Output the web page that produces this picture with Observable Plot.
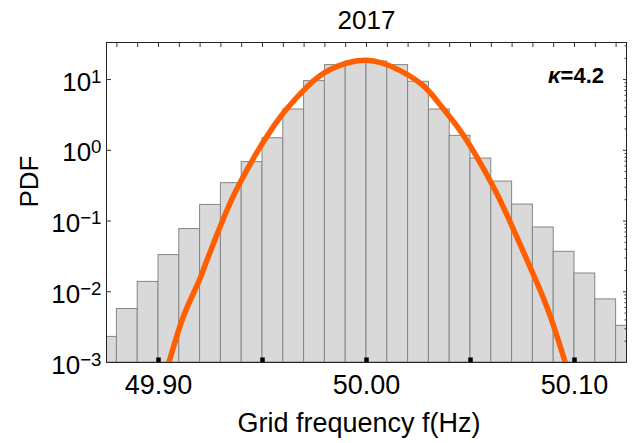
<!DOCTYPE html>
<html>
<head>
<meta charset="utf-8">
<script src="https://cdn.jsdelivr.net/npm/d3@7"></script>
<script src="https://cdn.jsdelivr.net/npm/@observablehq/plot@0.6"></script>
<style>
  html, body { margin: 0; padding: 0; background: #fff; }
</style>
</head>
<body>
<div id="chart"></div>
<script>
// ---- text ----
const title = "2017";
const xLabel = "Grid frequency f(Hz)";
const yLabel = "PDF";
const kappaSymbol = "κ";
const kappaValue = "=4.2";

// ---- histogram (bin left edges, bin width, PDF values) ----
const binLeft = [49.87, 49.88, 49.89, 49.90, 49.91, 49.92, 49.93, 49.94, 49.95, 49.96, 49.97, 49.98, 49.99,
                 50.00, 50.01, 50.02, 50.03, 50.04, 50.05, 50.06, 50.07, 50.08, 50.09, 50.10, 50.11, 50.12];
const binWidth = 0.01;
const pdf = [0.0023, 0.0057, 0.0138, 0.033, 0.077, 0.169, 0.343, 0.68, 1.48, 3.77, 9.5, 16.0, 18.0,
             18.0, 16.0, 9.3, 3.77, 1.6, 0.764, 0.361, 0.171, 0.081, 0.0367, 0.0181, 0.0078, 0.0033];

// ---- fitted curve ----
const fitX = [49.9048, 49.9118, 49.9188, 49.9232, 49.9308, 49.9380, 49.9468, 49.9537, 49.9612, 49.9716, 49.9828,
              50.0000, 50.0157, 50.0277, 50.0365, 50.0469, 50.0598, 50.0678, 50.0758, 50.0822, 50.0886, 50.0958];
const fitPdf = [0.00095, 0.00433, 0.0128, 0.0274, 0.1007, 0.297, 0.88, 1.85, 3.7, 8.0, 14.0,
                18.8, 13.6, 8.0, 4.0, 1.58, 0.355, 0.117, 0.0347, 0.0129, 0.0043, 0.00095];

// ---- axes ----
const xDomain = [49.875, 50.125];
const yDomain = [0.001, 33.4];
const xTickLabels = [49.90, 50.00, 50.10];
const xMajorTicks = [49.90, 49.95, 50.00, 50.05, 50.10];
const xMinorTicks = [49.88, 49.89, 49.90, 49.91, 49.92, 49.93, 49.94, 49.95, 49.96, 49.97, 49.98, 49.99, 50.00,
                     50.01, 50.02, 50.03, 50.04, 50.05, 50.06, 50.07, 50.08, 50.09, 50.10, 50.11, 50.12];
const yTickExponents = [1, 0, -1, -2, -3];
const yMinorMultipliers = [2, 3, 4, 5, 6, 7, 8, 9];

// derived tables
const bins = binLeft.map((x0, i) => ({x0, x1: x0 + binWidth, p: pdf[i]}));
const fit = fitX.map((x, i) => ({x, p: fitPdf[i]}));
const yMajor = yTickExponents.map(e => Math.pow(10, e));
const yMinor = [];
for (const e of yTickExponents) for (const m of yMinorMultipliers) {
  const v = m * Math.pow(10, e);
  if (v > yDomain[0] && v < yDomain[1]) yMinor.push(v);
}

const font = "'Liberation Sans', Arial, Helvetica, sans-serif";
const blank = () => "";
const expText = d => "10^" + (d < 0 ? "\u2212" + Math.abs(d) : String(d));

const chart = Plot.plot({
  width: 636,
  height: 443,
  marginLeft: 106,
  marginRight: 10,
  marginTop: 42,
  marginBottom: 81,
  style: {fontFamily: font, fontSize: "26px", background: "#fff", color: "#000"},
  x: {domain: xDomain},
  y: {type: "log", domain: yDomain},
  marks: [
    Plot.rect(bins, {x1: "x0", x2: "x1", y1: yDomain[0], y2: "p", fill: "#d9d9d9", stroke: "#858585", strokeWidth: 1, clip: true}),
    Plot.line(fit, {x: "x", y: "p", stroke: "#ff5f00", strokeWidth: 5.5, curve: "natural", clip: true}),
    Plot.frame({stroke: "#222", strokeWidth: 1}),
    Plot.axisX(xMinorTicks, {anchor: "top", tickSize: -4, tickFormat: blank, label: null, stroke: "#333"}),
    Plot.axisX(xMajorTicks, {anchor: "bottom", tickSize: -4.5, strokeWidth: 4.5, tickFormat: blank, label: null, stroke: "#000"}),
    Plot.axisY(yMajor, {anchor: "left", tickSize: -5, tickFormat: blank, label: null, stroke: "#333"}),
    Plot.axisY(yMajor, {anchor: "right", tickSize: -4, tickFormat: blank, label: null, stroke: "#333"}),
    Plot.axisY(yMinor, {anchor: "right", tickSize: -2.5, tickFormat: blank, label: null, stroke: "#333"}),
    // x tick labels
    Plot.text(xTickLabels, {x: d => d, text: d => d.toFixed(2), frameAnchor: "bottom", lineAnchor: "bottom", dy: 31, fontSize: 27, fill: "#000"}),
    // y tick labels (superscripts built below)
    Plot.text(yTickExponents, {y: d => Math.pow(10, d), text: expText,
      frameAnchor: "left", textAnchor: "end", lineAnchor: "bottom", dx: -5, dy: 11, fontSize: 26, fill: "#000"}),
    // title
    Plot.text([title], {text: d => d, frameAnchor: "top", lineAnchor: "bottom", dy: -13.5, fontSize: 26, fill: "#000"}),
    // x label
    Plot.text([xLabel], {text: d => d, frameAnchor: "bottom", lineAnchor: "bottom", dy: 69.5, dx: -7.5, fontSize: 27, fill: "#000"}),
    // y label
    Plot.text([yLabel], {text: d => d, frameAnchor: "left", lineAnchor: "bottom", rotate: -90, dx: -69, dy: 5, fontSize: 26, fill: "#000"}),
    // kappa
    Plot.text([kappaSymbol + kappaValue], {text: d => d, frameAnchor: "top-right", textAnchor: "end", lineAnchor: "bottom", dx: -22.5, dy: 40, fontSize: 22, fontWeight: "bold", fill: "#000"})
  ]
});

// Build superscripts and italic kappa
const ns = "http://www.w3.org/2000/svg";
chart.querySelectorAll("text").forEach(t => {
  const s = t.textContent;
  if (s.startsWith("10^")) {
    t.textContent = "";
    const base = document.createElementNS(ns, "tspan");
    base.textContent = "10";
    const sup = document.createElementNS(ns, "tspan");
    sup.setAttribute("dy", "-0.42em");
    sup.setAttribute("font-size", "0.72em");
    sup.textContent = s.slice(3);
    t.append(base, sup);
  } else if (s === kappaSymbol + kappaValue) {
    t.textContent = "";
    const k = document.createElementNS(ns, "tspan");
    k.setAttribute("font-style", "italic");
    k.textContent = kappaSymbol;
    const v = document.createElementNS(ns, "tspan");
    v.textContent = kappaValue;
    t.append(k, v);
  }
});

document.getElementById("chart").appendChild(chart);
</script>
</body>
</html>
